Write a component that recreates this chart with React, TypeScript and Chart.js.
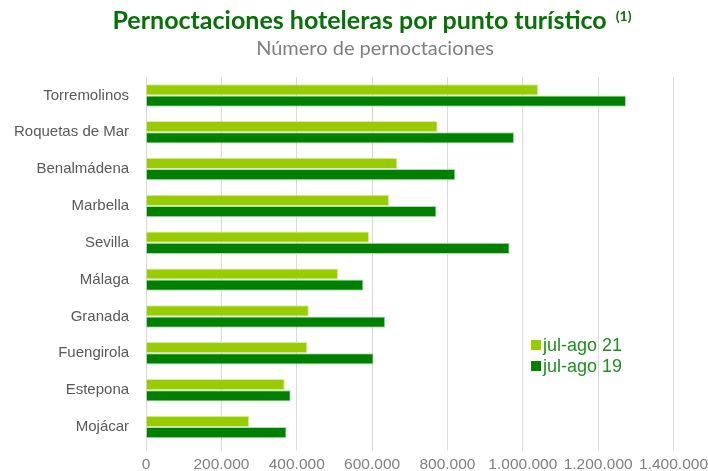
import React, { useEffect, useRef } from 'react';
import { Chart, registerables } from 'chart.js';

Chart.register(...registerables);

const categories = [
  'Torremolinos',
  'Roquetas de Mar',
  'Benalmádena',
  'Marbella',
  'Sevilla',
  'Málaga',
  'Granada',
  'Fuengirola',
  'Estepona',
  'Mojácar',
];
const seriesLabels = ['jul-ago 21', 'jul-ago 19'];
const values21 = [1041000, 774000, 667000, 645000, 592000, 510000, 432000, 428000, 368000, 274000];
const values19 = [1274000, 977000, 821000, 771000, 965000, 577000, 635000, 604000, 384000, 373000];
const xMin = 0;
const xMax = 1400000;
const xStep = 200000;

const formatThousands = (v: number) => String(Math.round(v)).replace(/\B(?=(\d{3})+(?!\d))/g, '.');

const insideLegend = {
  id: 'insideLegend',
  afterDraw(chart: any) {
    const { ctx, chartArea } = chart;
    const x0 = chartArea.left + 385;
    const y0 = chartArea.top + 268;
    ctx.save();
    chart.data.datasets.forEach((ds: any, i: number) => {
      const y = y0 + i * 21;
      ctx.fillStyle = ds.backgroundColor;
      ctx.fillRect(x0, y - 5, 10, 10);
      ctx.fillStyle = '#1f8f1f';
      ctx.font = '18px "Liberation Sans", Arial, sans-serif';
      ctx.textBaseline = 'middle';
      ctx.textAlign = 'left';
      ctx.fillText(ds.label, x0 + 12, y + 1);
    });
    ctx.restore();
  },
};

export default function App() {
  const canvasRef = useRef<HTMLCanvasElement | null>(null);

  useEffect(() => {
    if (!canvasRef.current) return;
    const chart = new Chart(canvasRef.current, {
      type: 'bar',
      data: {
        labels: categories,
        datasets: [
          {
            label: seriesLabels[0],
            data: values21,
            backgroundColor: '#99cc00',
            borderColor: 'rgba(210,235,170,0.9)',
            borderWidth: 1,
            categoryPercentage: 0.61,
            barPercentage: 1,
          },
          {
            label: seriesLabels[1],
            data: values19,
            backgroundColor: '#008000',
            borderColor: 'rgba(170,215,170,0.9)',
            borderWidth: 1,
            categoryPercentage: 0.61,
            barPercentage: 1,
          },
        ],
      },
      options: {
        indexAxis: 'y',
        responsive: false,
        animation: false,
        layout: { padding: { top: 77, left: 5, right: 0, bottom: 0 } },
        plugins: {
          legend: { display: false },
          title: { display: false },
          tooltip: { enabled: false },
        },
        scales: {
          x: {
            min: xMin,
            max: xMax,
            ticks: {
              stepSize: xStep,
              color: '#7f7f7f',
              padding: 5,
              font: { family: '"Liberation Sans", Arial, sans-serif', size: 15.5 },
              callback: (v: any) => formatThousands(Number(v)),
            },
            grid: { color: '#d9d9d9', lineWidth: 1, tickLength: 5, drawTicks: true },
            border: { display: false },
          },
          y: {
            ticks: {
              color: '#595959',
              padding: 9,
              font: { family: '"Liberation Sans", Arial, sans-serif', size: 15 },
            },
            grid: { display: false },
            border: { display: false },
          },
        },
      },
      plugins: [insideLegend],
    });
    return () => chart.destroy();
  }, []);

  return (
    <div style={{ position: 'fixed', left: 0, top: 0, width: 708, height: 471, overflow: 'hidden', background: '#fff' }}>
      <canvas ref={canvasRef} width={713} height={479} style={{ position: 'absolute', left: 0, top: 0 }} />
      <div
        style={{
          position: 'absolute',
          left: 54,
          width: 636,
          top: 3,
          textAlign: 'center',
          fontFamily: 'Lato, "Open Sans", sans-serif',
          fontWeight: 700,
          fontSize: 25,
          lineHeight: '32px',
          color: '#087008',
          whiteSpace: 'nowrap',
        }}
      >
        Pernoctaciones hoteleras por punto turístico
        <sup style={{ fontSize: 14, verticalAlign: 'top', position: 'relative', top: -3, marginLeft: 9 }}>(1)</sup>
      </div>
      <div
        style={{
          position: 'absolute',
          left: 42,
          width: 666,
          top: 34,
          textAlign: 'center',
          fontFamily: 'Lato, "Open Sans", sans-serif',
          fontWeight: 400,
          fontSize: 20,
          lineHeight: '26px',
          color: '#7f7f7f',
          whiteSpace: 'nowrap',
        }}
      >
        Número de pernoctaciones
      </div>
    </div>
  );
}
